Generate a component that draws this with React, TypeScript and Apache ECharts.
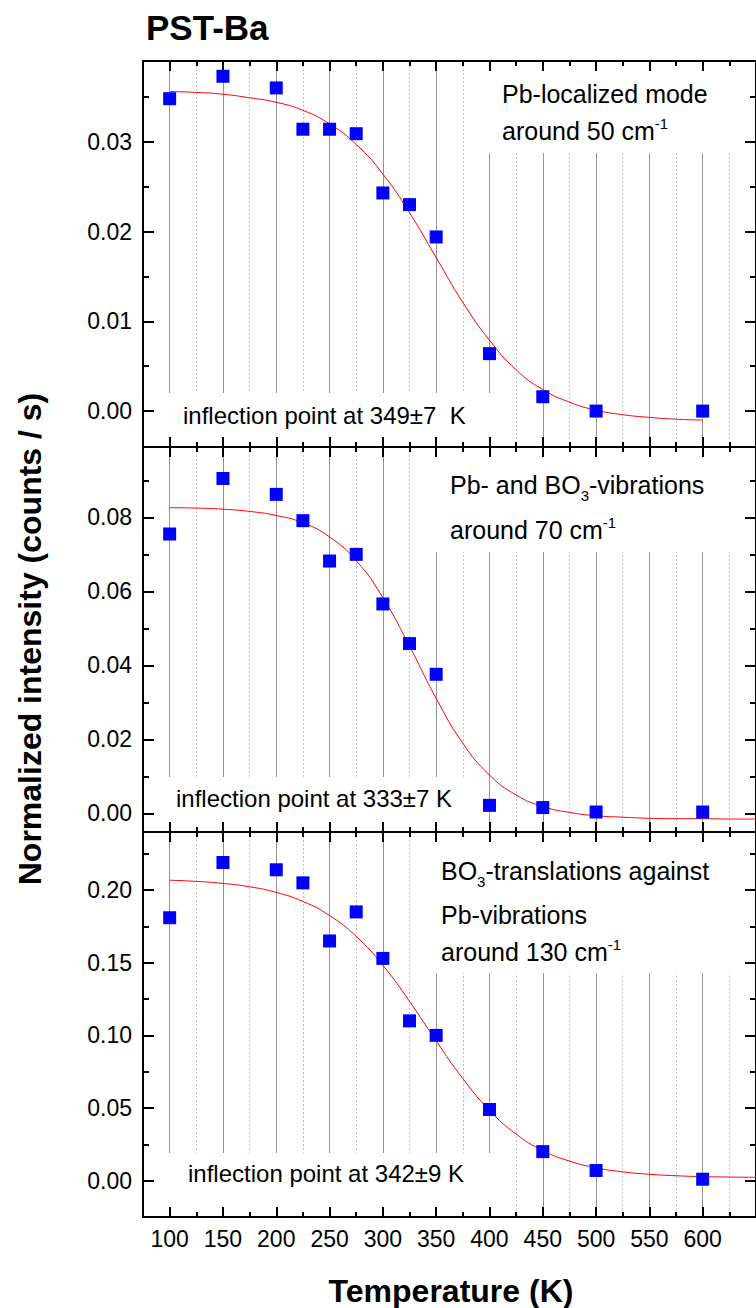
import React, { useEffect, useRef } from 'react';
import * as echarts from 'echarts';

// ---- data ----
const temps = [100, 150, 200, 225, 250, 275, 300, 325, 350, 400, 450, 500, 600];
const pbLocalized = [0.0348, 0.0373, 0.0360, 0.0314, 0.0314, 0.0309, 0.0243, 0.0230, 0.0194, 0.0064, 0.0016, 0.0000, 0.0000];
const pbBo3 = [0.0755, 0.0905, 0.0862, 0.0791, 0.0682, 0.0700, 0.0566, 0.0459, 0.0376, 0.0022, 0.0016, 0.0004, 0.0004];
const bo3Trans = [0.181, 0.219, 0.214, 0.205, 0.165, 0.185, 0.153, 0.110, 0.100, 0.049, 0.020, 0.007, 0.001];

const fitTempsShort = [100, 125, 150, 175, 200, 225, 250, 275, 300, 325, 350, 375, 400, 425, 450, 475, 500, 525, 550, 575, 600];
const fitTempsLong = [100, 125, 150, 175, 200, 225, 250, 275, 300, 325, 350, 375, 400, 425, 450, 475, 500, 525, 550, 575, 600, 625, 650];
const fitPbLocalized = [0.0356, 0.0355, 0.0353, 0.0349, 0.0344, 0.0335, 0.0320, 0.0297, 0.0264, 0.0221, 0.0171, 0.0121, 0.0079, 0.0046, 0.0024, 0.0010, 0.0001, -0.0004, -0.0007, -0.0009, -0.0010];
const fitPbBo3 = [0.0826, 0.0825, 0.0822, 0.0816, 0.0805, 0.0785, 0.0747, 0.0683, 0.0583, 0.0452, 0.0311, 0.0190, 0.0104, 0.0050, 0.0019, 0.0003, -0.0006, -0.0010, -0.0013, -0.0014, -0.0014, -0.0015, -0.0015];
const fitBo3Trans = [0.2068, 0.2060, 0.2046, 0.2023, 0.1984, 0.1922, 0.1825, 0.1681, 0.1482, 0.1234, 0.0962, 0.0703, 0.0485, 0.0321, 0.0208, 0.0135, 0.0089, 0.0061, 0.0044, 0.0034, 0.0028, 0.0025, 0.0023];

const xMajorTicks = [100, 150, 200, 250, 300, 350, 400, 450, 500, 550, 600, 650];
const xMinorTicks = [125, 175, 225, 275, 325, 375, 425, 475, 525, 575, 625];
const xTickLabels = [100, 150, 200, 250, 300, 350, 400, 450, 500, 550, 600];

const yMajor1 = [0, 0.01, 0.02, 0.03];
const yMinor1 = [0.005, 0.015, 0.025, 0.035];
const yMajor2 = [0, 0.02, 0.04, 0.06, 0.08];
const yMinor2 = [0.01, 0.03, 0.05, 0.07, 0.09];
const yMajor3 = [0, 0.05, 0.1, 0.15, 0.2];
const yMinor3 = [0.025, 0.075, 0.125, 0.175, 0.225];

const FONT = '"Liberation Sans", Arial, sans-serif';

const panels = [
  { top: 61, height: 386, yMin: -0.004, yMax: 0.039, yMajor: yMajor1, yMinor: yMinor1, values: pbLocalized, fitX: fitTempsShort, fitY: fitPbLocalized },
  { top: 447, height: 385, yMin: -0.005, yMax: 0.099, yMajor: yMajor2, yMinor: yMinor2, values: pbBo3, fitX: fitTempsLong, fitY: fitPbBo3 },
  { top: 832, height: 385, yMin: -0.025, yMax: 0.24, yMajor: yMajor3, yMinor: yMinor3, values: bo3Trans, fitX: fitTempsLong, fitY: fitBo3Trans },
];

const GRID_LEFT = 143;
const GRID_WIDTH = 618;

function buildOption() {
  const grid: any[] = [];
  const xAxis: any[] = [];
  const yAxis: any[] = [];
  const series: any[] = [];

  panels.forEach((p, i) => {
    grid.push({ left: GRID_LEFT, top: p.top, width: GRID_WIDTH, height: p.height, containLabel: false });
    const xBase = { type: 'value', gridIndex: i, min: 75, max: 650 };
    const black = { color: '#000', width: 2 };
    // grid-line axes
    xAxis.push({
      ...xBase, position: 'bottom', z: 0,
      axisLine: { show: false, onZero: false },
      axisTick: { show: false, customValues: xMajorTicks },
      axisLabel: { show: false },
      splitLine: { show: true, lineStyle: { color: '#949494', width: 1 } },
    });
    xAxis.push({
      ...xBase, position: 'bottom', z: 0,
      axisLine: { show: false, onZero: false },
      axisTick: { show: false, customValues: xMinorTicks },
      axisLabel: { show: false },
      splitLine: { show: true, lineStyle: { color: '#c4c4c4', width: 1, type: [2, 2] } },
    });
    (['bottom', 'top'] as const).forEach((pos) => {
      xAxis.push({
        ...xBase, position: pos, z: 6,
        axisLine: { show: true, onZero: false, lineStyle: black },
        axisTick: { show: true, inside: true, length: 10, lineStyle: black, customValues: xMajorTicks },
        axisLabel: {
          show: i === 2 && pos === 'bottom', customValues: xTickLabels, color: '#000',
          fontFamily: FONT, fontSize: 23, margin: 10,
        },
        splitLine: { show: false },
      });
      xAxis.push({
        ...xBase, position: pos, z: 6,
        axisLine: { show: false, onZero: false },
        axisTick: { show: true, inside: true, length: 5, lineStyle: black, customValues: xMinorTicks },
        axisLabel: { show: false },
        splitLine: { show: false },
      });
    });
    const yBase = { type: 'value', gridIndex: i, min: p.yMin, max: p.yMax };
    (['left', 'right'] as const).forEach((pos) => {
      yAxis.push({
        ...yBase, position: pos, z: 6,
        axisLine: { show: true, onZero: false, lineStyle: black },
        axisTick: { show: true, inside: true, length: 11, lineStyle: black, customValues: p.yMajor },
        axisLabel: {
          show: pos === 'left', customValues: p.yMajor, color: '#000', fontFamily: FONT,
          fontSize: 23, margin: 11, formatter: (v: number) => v.toFixed(2),
        },
        splitLine: { show: false },
      });
      yAxis.push({
        ...yBase, position: pos, z: 6,
        axisLine: { show: false, onZero: false },
        axisTick: { show: true, inside: true, length: 6, lineStyle: black, customValues: p.yMinor },
        axisLabel: { show: false },
        splitLine: { show: false },
      });
    });

    series.push({
      type: 'line', xAxisIndex: i * 6, yAxisIndex: i * 4, z: 9,
      data: p.fitX.map((t, k) => [t, p.fitY[k]]),
      symbol: 'none', showSymbol: false, smooth: 0.5,
      lineStyle: { color: '#ff0000', width: 1 },
      silent: true,
    });
    series.push({
      type: 'scatter', xAxisIndex: i * 6, yAxisIndex: i * 4, z: 10,
      data: temps.map((t, k) => [t, p.values[k]]),
      symbol: 'rect', symbolSize: 13,
      itemStyle: { color: '#0000ff', opacity: 1 },
      silent: true,
    });
  });

  const whiteBox = (x: number, y: number, w: number, h: number) => ({
    type: 'rect', z: 3, silent: true,
    shape: { x, y, width: w, height: h },
    style: { fill: '#ffffff' },
  });

  const supRich = {
    sup: { fontSize: 15, fontFamily: FONT, lineHeight: 14, verticalAlign: 'top', fill: '#000' },
    sub: { fontSize: 15, fontFamily: FONT, lineHeight: 10, verticalAlign: 'bottom', fill: '#000' },
  };
  const noteText = (x: number, y: number, text: string, lh: number) => ({
    type: 'text', z: 4, silent: true,
    style: {
      x, y, text, fontSize: 25, fontFamily: FONT, fill: '#000',
      align: 'left', verticalAlign: 'middle', lineHeight: lh, rich: supRich,
    },
  });
  const inflText = (x: number, y: number, text: string) => ({
    type: 'text', z: 4, silent: true,
    style: { x, y, text, fontSize: 24, fontFamily: FONT, fill: '#000', align: 'left', verticalAlign: 'middle' },
  });

  const graphic: any[] = [
    whiteBox(486, 62, 262, 91),
    whiteBox(150, 393, 350, 52),
    whiteBox(432, 448, 316, 104),
    whiteBox(150, 777, 320, 53),
    whiteBox(425, 833, 323, 140),
    whiteBox(150, 1153, 355, 62),
    noteText(502, 94, 'Pb-localized mode', 30),
    noteText(502, 131, 'around 50 cm{sup|-1}', 30),
    noteText(450, 485, 'Pb- and BO{sub|3}-vibrations', 36),
    noteText(450, 530, 'around 70 cm{sup|-1}', 30),
    noteText(441, 871, 'BO{sub|3}-translations against', 36),
    noteText(441, 915, 'Pb-vibrations', 30),
    noteText(441, 952, 'around 130 cm{sup|-1}', 30),
    inflText(183, 415, 'inflection point at 349\u00b17  K'),
    inflText(176, 798, 'inflection point at 333\u00b17 K'),
    inflText(188, 1173, 'inflection point at 342\u00b19 K'),
    {
      type: 'text', z: 4, silent: true,
      style: { x: 146, y: 27, text: 'PST-Ba', font: `bold 35px ${FONT}`, fill: '#000', align: 'left', verticalAlign: 'middle' },
    },
    {
      type: 'text', z: 4, silent: true,
      style: { x: 451, y: 1291, text: 'Temperature (K)', font: `bold 32px ${FONT}`, fill: '#000', align: 'center', verticalAlign: 'middle' },
    },
    {
      type: 'text', z: 4, silent: true, x: 30, y: 639, rotation: Math.PI / 2,
      style: { x: 0, y: 0, text: 'Normalized intensity (counts / s)', font: `bold 32px ${FONT}`, fill: '#000', align: 'center', verticalAlign: 'middle' },
    },
  ];

  return {
    animation: false,
    backgroundColor: '#ffffff',
    grid, xAxis, yAxis, series, graphic,
  };
}

export default function App() {
  const ref = useRef<HTMLDivElement>(null);
  useEffect(() => {
    if (!ref.current) return;
    const chart = echarts.init(ref.current, undefined, { renderer: 'svg' });
    chart.setOption(buildOption() as any);
    return () => chart.dispose();
  }, []);
  return (
    <div
      ref={ref}
      style={{ position: 'absolute', left: 0, top: 0, width: 756, height: 1308, background: '#fff' }}
    />
  );
}
